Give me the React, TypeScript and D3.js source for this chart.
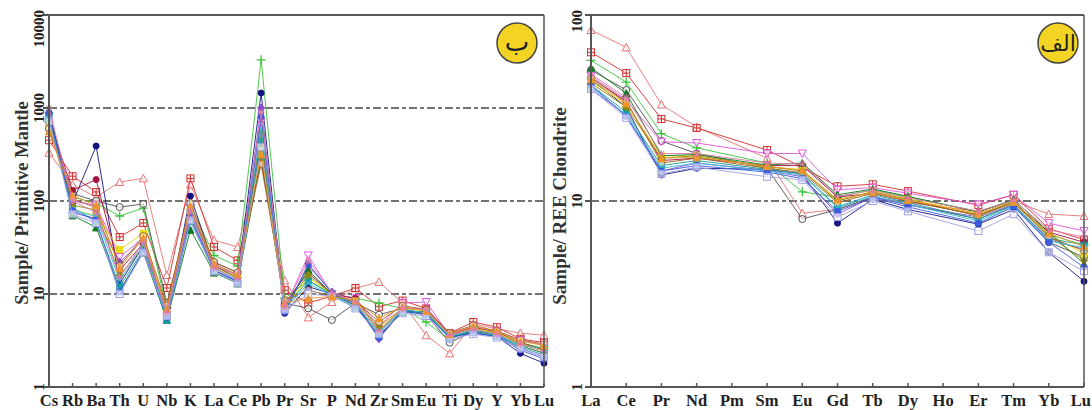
import { scaleLog, scalePoint, line } from "d3";

// spider diagram categories
const mantleElements = ["Cs","Rb","Ba","Th","U","Nb","K","La","Ce","Pb","Pr","Sr","P","Nd","Zr","Sm","Eu","Ti","Dy","Y","Yb","Lu"];
const reeElements = ["La","Ce","Pr","Nd","Pm","Sm","Eu","Gd","Tb","Dy","Ho","Er","Tm","Yb","Lu"];
const mantleTicks = [1, 10, 100, 1000, 10000];
const reeTicks = [1, 10, 100];
const mantleRefLines = [10, 100, 1000];
const reeRefLines = [10];

const sampleColors = ["#e57373","#d32f2f","#3cc43c","#505050","#141482","#e055e0","#a01040","#e8dc10","#8a4cc8","#0a7a20","#1a9a9a","#8a8a10","#a0602a","#30bce0","#3a5ae0","#a0a0e8","#f0962a","#e07aa8"];
const sampleMarkers = ["tri","sqx","plus","circ","dot","itri","dot","fsq","diam","ftri","fsq","diam","circ","x","dot","sq","ftri","star"];

// Sample / Primitive Mantle
const mantleValues: number[][] = [
  [330,150,110,160,175,16,150,38,32,300,14,5.6,8.2,11.5,13.5,8,3.6,2.3,4.8,4.2,3.8,3.6],
  [450,185,125,41,58,11.6,175,32,23,260,11,8,9.5,11.6,7.3,8.5,7,3.8,5,4.4,3.3,3],
  [700,110,95,69,84,7,90,26,20,3300,9,14,10,9,8,7,5,3.2,4.3,3.9,3,2.6],
  [600,120,100,86,93,8,80,22,17,500,8,7,5.25,8,6,7,6,3,4,3.8,3,2.5],
  [900,95,390,13,33,6,113,20,15,1450,6.2,12,10,8,3.5,6.5,6.5,3.5,3.8,3.5,2.3,1.8],
  [800,100,90,25,40,6.5,85,20,16,700,7,26,10,9,4.5,8,8.2,3.6,4.5,4,3.2,2.8],
  [750,130,170,18,35,7,75,21,16,400,8,17,10,9,4,7,7,3.7,4.4,3.9,3,2.5],
  [650,80,70,30,45,6,70,19,15,350,7,15,10,8.5,4.2,7,6.5,3.5,4.3,3.8,3,2.4],
  [850,75,65,22,38,5.5,65,18,14,1000,6.5,20,10.5,8,3.3,6.8,6.2,3.4,4,3.6,2.6,2.1],
  [950,70,52,11,28,5.3,49,17,13,300,7.5,18,10,7.5,3.6,6.4,6.4,3.4,4,3.6,2.8,2.3],
  [800,85,60,12,30,5.2,60,18,13.5,450,7,14,9.8,7.2,3.8,6.6,6,3.5,3.9,3.5,2.7,2.2],
  [700,90,80,16,32,6.2,80,20,15,550,7.5,16,10,8,4.5,7,6.8,3.6,4.2,3.7,2.9,2.6],
  [600,105,85,20,42,7.5,95,22,17,250,8.5,11,9.5,8.5,5,7.5,6.8,3.8,4.6,4,3.2,2.9],
  [780,80,68,14,34,6,72,19,14,600,6.8,13,9.6,7.8,3.9,6.8,6.3,3.5,4.1,3.6,2.8,2.6],
  [880,78,62,10.5,29,5.6,68,18,13.5,800,6.4,21,10.2,7.5,3.4,6.5,6,3.4,3.8,3.5,2.5,2],
  [720,72,58,10,28,5.8,62,17.5,13,380,6.8,10,9.5,7,3.7,6.2,5.8,3.3,3.7,3.4,2.6,2.1],
  [560,115,90,19,40,7,88,21,16,320,8,9,9.4,8.5,5.5,7.3,6.6,3.7,4.5,4,3.1,2.8],
  [1000,100,75,15,36,6.3,78,19,14.5,900,7.2,23,10.4,8.2,4,7,6.9,3.6,4.2,3.7,2.9,2.4],
];

// Sample / REE Chondrite (Pm and Ho not analysed)
const reeValues: (number | null)[][] = [
  [83,67,33,25,null,17,8.6,9,10.5,9.8,null,8.8,10,8.5,8.3],
  [63,48.7,27.6,24.7,null,18.8,15.2,12,12.3,11.3,null,9.5,10.8,7.1,6.2],
  [57,43.6,23,19.3,null,16,11.2,10.5,11.5,10.5,null,8.8,10,6.6,5.8],
  [50.6,39.5,21,18,null,15,8,9,10.5,9.6,null,8,9.5,6,5],
  [45,32,13.8,15,null,14.8,14,7.6,10.2,9,null,7.5,9,5.3,3.7],
  [47,35,20.8,20.5,null,18,18,11.5,11.8,11,null,9.6,10.8,7.6,6.9],
  [46,34,16.5,17,null,15.5,15.5,10.5,11,10,null,8.4,9.8,6.8,6],
  [44,33,17.5,17.5,null,15.2,14.8,10,11.3,10.3,null,8.5,9.7,6.6,5.2],
  [40,29,14.5,16,null,14.6,13.5,8.5,10.5,9.5,null,8.2,9.6,6.2,5.5],
  [52,38,17.5,17.8,null,15.6,16,10.8,11.6,10.6,null,8.7,10.2,6.8,4.6],
  [42,30,15.5,16.5,null,14.8,14,9.3,10.8,9.8,null,8,9.5,6.3,5.8],
  [43,32,17,17.5,null,15.3,14.5,10,11.2,10.2,null,8.3,9.8,6.5,4.8],
  [46,34.5,16,17,null,15,14.2,9.8,11,10,null,8.4,9.9,6.4,5.4],
  [41,29,15,16,null,14.5,13.8,9.2,10.6,9.6,null,7.8,9.4,6.1,5.6],
  [42,28.5,14.5,15.5,null,14.3,13.2,8.8,10.4,9.3,null,7.6,9.3,6,4.4],
  [40,28,14,15.2,null,13.5,13,8.2,10,8.8,null,6.9,8.5,5.3,4.2],
  [45,33.5,17,17.2,null,15.4,14.6,10.2,11.1,10.1,null,8.6,9.9,6.7,5.7],
  [48,36,18,18,null,16,15.8,10.6,11.4,10.4,null,8.8,10.1,7,6.4],
];

const serif = "'Liberation Serif', 'Times New Roman', serif";

function Marker({ type, x, y, color }: { type: string; x: number; y: number; color: string }) {
  const s = 3.5;
  const common = { stroke: color, strokeWidth: 1 };
  switch (type) {
    case "tri":
      return <path d={`M${x},${y - s - 0.5}L${x + s + 0.5},${y + s}L${x - s - 0.5},${y + s}Z`} fill="white" fillOpacity={0.6} {...common} />;
    case "itri":
      return <path d={`M${x},${y + s + 0.5}L${x + s + 0.5},${y - s}L${x - s - 0.5},${y - s}Z`} fill="white" fillOpacity={0.6} {...common} />;
    case "ftri":
      return <path d={`M${x},${y - s}L${x + s},${y + s}L${x - s},${y + s}Z`} fill={color} {...common} />;
    case "sqx":
      return <g {...common}><rect x={x - s} y={y - s} width={2 * s} height={2 * s} fill="white" fillOpacity={0.6} /><path d={`M${x - s},${y}H${x + s}M${x},${y - s}V${y + s}`} /></g>;
    case "sq":
      return <rect x={x - s} y={y - s} width={2 * s} height={2 * s} fill="white" fillOpacity={0.6} {...common} />;
    case "fsq":
      return <rect x={x - s + 0.5} y={y - s + 0.5} width={2 * s - 1} height={2 * s - 1} fill={color} {...common} />;
    case "plus":
      return <path d={`M${x - s - 1},${y}H${x + s + 1}M${x},${y - s - 1}V${y + s + 1}`} {...common} strokeWidth={1.3} />;
    case "x":
      return <path d={`M${x - s},${y - s}L${x + s},${y + s}M${x - s},${y + s}L${x + s},${y - s}`} {...common} strokeWidth={1.2} />;
    case "circ":
      return <circle cx={x} cy={y} r={s} fill="white" fillOpacity={0.6} {...common} />;
    case "dot":
      return <circle cx={x} cy={y} r={s - 0.5} fill={color} {...common} />;
    case "diam":
      return <path d={`M${x},${y - s - 0.5}L${x + s},${y}L${x},${y + s + 0.5}L${x - s},${y}Z`} fill={color} {...common} />;
    default:
      return <path d={`M${x - s},${y}H${x + s}M${x},${y - s}V${y + s}M${x - s + 1},${y - s + 1}L${x + s - 1},${y + s - 1}M${x - s + 1},${y + s - 1}L${x + s - 1},${y - s + 1}`} {...common} />;
  }
}

interface PanelProps {
  cats: string[];
  values: (number | null)[][];
  ticks: number[];
  refLines: number[];
  x0: number;
  x1: number;
  title: string;
  titleX: number;
  titleY: number;
  titleSize: number;
  labelX: number;
  badge: string;
  badgeX: number;
  badgeSize: number;
}

function Panel({ cats, values, ticks, refLines, x0, x1, title, titleX, titleY, titleSize, labelX, badge, badgeX, badgeSize }: PanelProps) {
  const top = 15;
  const bottom = 387;
  const x = scalePoint<string>().domain(cats).range([x0, x1]);
  const y = scaleLog().domain([ticks[0], ticks[ticks.length - 1]]).range([bottom, top]);
  const gen = line<[string, number | null]>()
    .x(d => x(d[0]) as number)
    .y(d => y(d[1] as number));
  const axisColor = "#555";
  const tickFont = 15;

  return (
    <g>
      {refLines.map(v => (
        <line key={v} x1={x0} x2={x1} y1={y(v)} y2={y(v)} stroke="#444" strokeWidth={1.4} strokeDasharray="8,3,4,3" />
      ))}
      {values.map((row, i) => {
        const pts = cats.map((c, j) => [c, row[j]] as [string, number | null]).filter(d => d[1] != null);
        return (
          <g key={i}>
            <path d={gen(pts) ?? ""} fill="none" stroke={sampleColors[i]} strokeWidth={1} strokeOpacity={0.9} />
            {pts.map(d => (
              <Marker key={d[0]} type={sampleMarkers[i]} x={x(d[0]) as number} y={y(d[1] as number)} color={sampleColors[i]} />
            ))}
          </g>
        );
      })}
      {/* frame */}
      <line x1={x0} x2={x0} y1={top} y2={bottom} stroke={axisColor} strokeWidth={2} />
      <line x1={x0} x2={x1} y1={bottom} y2={bottom} stroke={axisColor} strokeWidth={2} />
      <line x1={x0} x2={x1} y1={top} y2={top} stroke={axisColor} strokeWidth={2} />
      <line x1={x1} x2={x1} y1={top} y2={bottom} stroke={axisColor} strokeWidth={1.5} />
      {cats.map(c => {
        const cx = x(c) as number;
        const edge = cx + 10 > 1091;
        return (
          <g key={c}>
            <line x1={cx} x2={cx} y1={bottom} y2={bottom - 4} stroke={axisColor} strokeWidth={1.5} />
            <text x={edge ? 1091 : cx} y={406} textAnchor={edge ? "end" : "middle"} fontFamily={serif} fontWeight="bold" fontSize={16.5} fill="#222">{c}</text>
          </g>
        );
      })}
      {ticks.map(t => {
        const half = String(t).length * tickFont * 0.25;
        const cy = Math.max(y(t), top - 5 + half);
        return (
          <g key={t}>
            <line x1={x0 - 6} x2={x0} y1={y(t)} y2={y(t)} stroke={axisColor} strokeWidth={2} />
            <text transform={`translate(${labelX},${cy}) rotate(-90)`} textAnchor="middle" fontFamily={serif} fontWeight="bold" fontSize={tickFont} fill="#222">{t}</text>
          </g>
        );
      })}
      <text transform={`translate(${titleX},${titleY}) rotate(-90)`} textAnchor="middle" fontFamily={serif} fontWeight="bold" fontSize={titleSize} fill="#333">{title}</text>
      <circle cx={badgeX} cy={43} r={20} fill="#f3d424" stroke="#444" strokeWidth={1.5} />
      <text x={badgeX} y={51} textAnchor="middle" fontFamily="'DejaVu Sans', 'Noto Sans', sans-serif" fontSize={badgeSize} fill="#222">{badge}</text>
    </g>
  );
}

export default function App() {
  return (
    <svg width={1092} height={410} viewBox="0 0 1092 410" style={{ position: "absolute", left: 0, top: 0, background: "#fff" }}>
      <Panel cats={mantleElements} values={mantleValues} ticks={mantleTicks} refLines={mantleRefLines}
        x0={49} x1={544} title="Sample/ Primitive Mantle" titleX={28} titleY={203} titleSize={18.5} labelX={44}
        badge="ب" badgeX={517} badgeSize={26} />
      <Panel cats={reeElements} values={reeValues} ticks={reeTicks} refLines={reeRefLines}
        x0={591} x1={1084} title="Sample/ REE Chondrite" titleX={566} titleY={206} titleSize={19} labelX={582}
        badge="الف" badgeX={1058} badgeSize={22} />
    </svg>
  );
}
